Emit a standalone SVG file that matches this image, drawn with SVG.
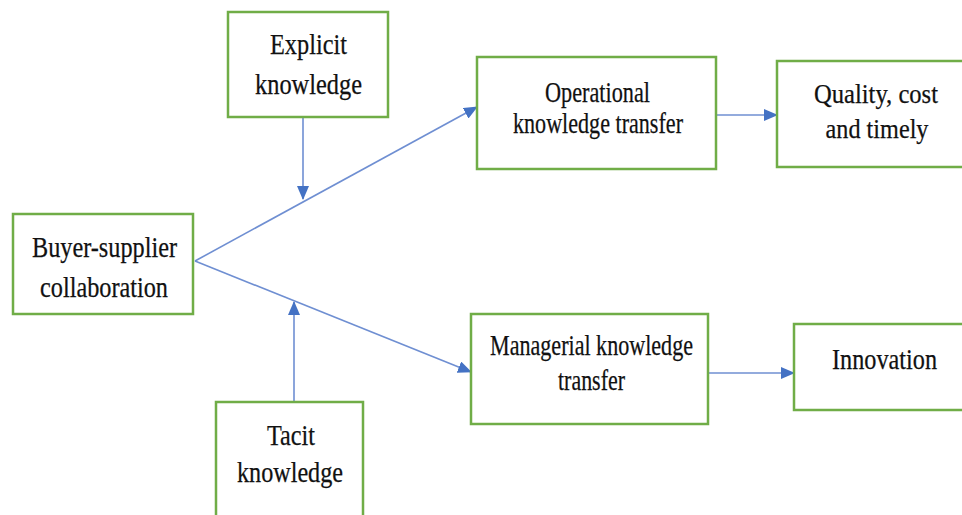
<svg xmlns="http://www.w3.org/2000/svg" width="962" height="515" viewBox="0 0 962 515">
<defs>
<style>
.box{fill:#ffffff;stroke:#70ad47;stroke-width:2.5}
.lbl{font-family:"Liberation Serif","Times New Roman",serif;font-size:30px;fill:#111111;stroke:#111111;stroke-width:0.25;text-anchor:middle}
.sm{font-size:28px}
.con{stroke:#6f8fd2;stroke-width:1.6;fill:none;marker-end:url(#ah)}
</style>
<marker id="ah" markerUnits="userSpaceOnUse" markerWidth="14" markerHeight="12" viewBox="0 0 14 12" refX="13" refY="6" orient="auto">
<path d="M0,0 L14,6 L0,12 Z" fill="#4472c4"/>
</marker>
</defs>
<rect width="962" height="515" fill="#ffffff"/>
<g id="connectors">
<line class="con" x1="303" y1="117" x2="303" y2="199"/>
<line class="con" x1="294" y1="402" x2="294" y2="302"/>
<line class="con" x1="195" y1="261" x2="477" y2="107"/>
<line class="con" x1="195" y1="261" x2="471" y2="372"/>
<line class="con" x1="716" y1="115" x2="777" y2="115"/>
<line class="con" x1="708" y1="373" x2="794" y2="373"/>
</g>
<g id="explicit">
<rect class="box" x="228" y="12" width="160" height="105"/>
<text class="lbl" x="308.5" y="54" textLength="77" lengthAdjust="spacingAndGlyphs">Explicit</text>
<text class="lbl" x="308.5" y="94" textLength="107" lengthAdjust="spacingAndGlyphs">knowledge</text>
</g>
<g id="buyer">
<rect class="box" x="13" y="214" width="180" height="100"/>
<text class="lbl" x="104.5" y="257" textLength="145" lengthAdjust="spacingAndGlyphs">Buyer-supplier</text>
<text class="lbl" x="104" y="297" textLength="128" lengthAdjust="spacingAndGlyphs">collaboration</text>
</g>
<g id="tacit">
<path class="box" d="M216,515 V402 H363 V515"/>
<text class="lbl" x="291" y="445" textLength="48" lengthAdjust="spacingAndGlyphs">Tacit</text>
<text class="lbl" x="290" y="482" textLength="106" lengthAdjust="spacingAndGlyphs">knowledge</text>
</g>
<g id="operational">
<rect class="box" x="477" y="57" width="239" height="112"/>
<text class="lbl" x="597.5" y="102" textLength="105" lengthAdjust="spacingAndGlyphs">Operational</text>
<text class="lbl" x="598" y="133" textLength="170" lengthAdjust="spacingAndGlyphs">knowledge transfer</text>
</g>
<g id="quality">
<path class="box" d="M962,61 H777 V167 H962"/>
<text class="lbl sm" x="876" y="103" textLength="124" lengthAdjust="spacingAndGlyphs">Quality, cost</text>
<text class="lbl sm" x="877" y="138" textLength="103" lengthAdjust="spacingAndGlyphs">and timely</text>
</g>
<g id="managerial">
<rect class="box" x="471" y="314" width="237" height="110"/>
<text class="lbl" x="591.5" y="355" textLength="203" lengthAdjust="spacingAndGlyphs">Managerial knowledge</text>
<text class="lbl" x="591.5" y="390" textLength="67" lengthAdjust="spacingAndGlyphs">transfer</text>
</g>
<g id="innovation">
<path class="box" d="M962,324 H794 V410 H962"/>
<text class="lbl" x="884.5" y="369" textLength="105" lengthAdjust="spacingAndGlyphs">Innovation</text>
</g>
</svg>
